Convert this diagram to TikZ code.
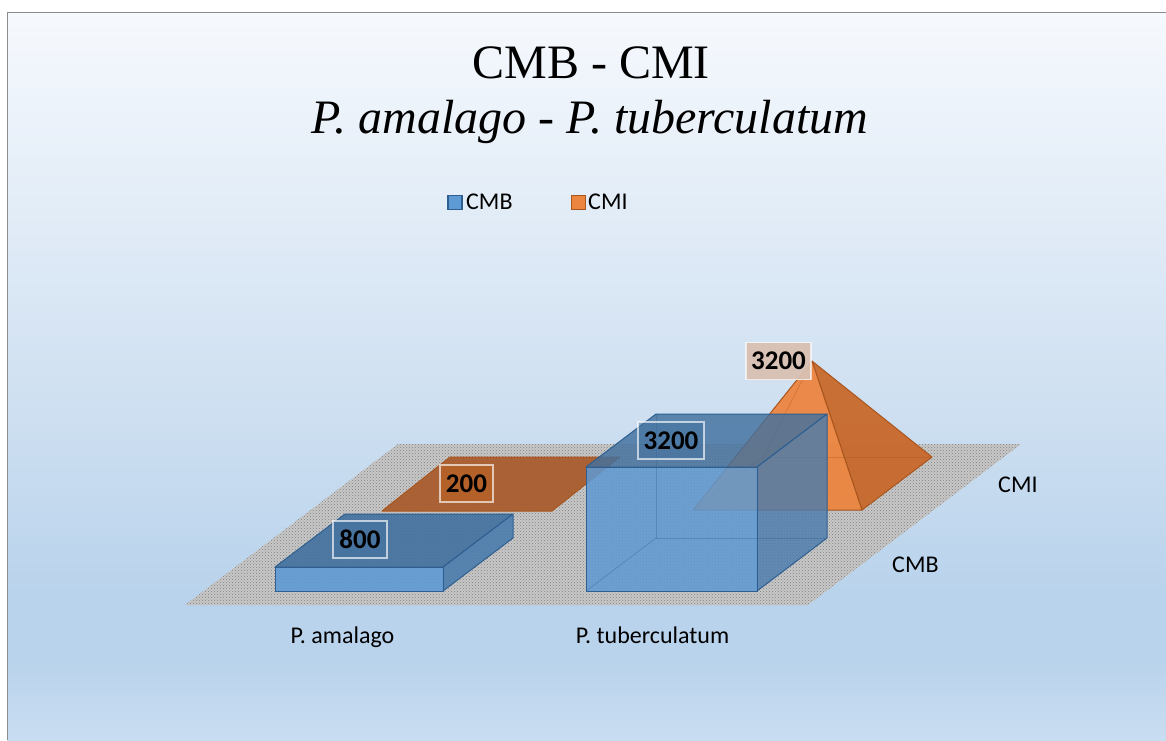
\documentclass[tikz,border=0pt]{standalone}
\usepackage{fontspec}
\setmainfont{Liberation Serif}
\newfontfamily\calfont{Carlito}
\usetikzlibrary{patterns}
\definecolor{bgA}{HTML}{F6F9FD}
\definecolor{bgB}{HTML}{E8F0F9}
\definecolor{bgC}{HTML}{CFE0F1}
\definecolor{bgD}{HTML}{B9D3EC}
\definecolor{bgE}{HTML}{C9DDF1}
\definecolor{floorgray}{HTML}{C8C8C8}
\definecolor{bfront}{HTML}{5E9AD3}
\definecolor{btop}{HTML}{42719F}
\definecolor{bright}{HTML}{4B7CAD}
\definecolor{bedge}{HTML}{2E5F90}
\definecolor{ofront}{HTML}{EC8540}
\definecolor{oright}{HTML}{C8692C}
\definecolor{oflat}{HTML}{A95A2A}
\definecolor{oedge}{HTML}{A9561E}
\definecolor{olabel}{HTML}{D9C1B3}
\definecolor{framegray}{HTML}{8C8C8C}
\pgfdeclareverticalshading{bgshade}{100bp}{color(0bp)=(bgE); color(25bp)=(bgE); color(30.5bp)=(bgD); color(35bp)=(bgD); color(48.4bp)=(bgC); color(65.5bp)=(bgB); color(75bp)=(bgA); color(100bp)=(bgA)}
\tikzset{
  bluebox/.style={draw=bedge, line width=1pt, line join=round},
  orangeshape/.style={draw=oedge, line width=1pt, line join=round},
  hidden/.style={line width=0.8pt, draw opacity=0.35},
  datalabel/.style={font=\calfont\bfseries\fontsize{27}{30}\selectfont, text=black, inner sep=0pt, minimum height=37pt, draw=white, draw opacity=0.65, line width=1.2pt},
  chartlabel/.style={font=\calfont\fontsize{24}{28}\selectfont, text=black, inner sep=0pt},
  legendbox/.style={line width=1.5pt, minimum size=14pt, inner sep=0pt}
}
\begin{document}
\begin{tikzpicture}[x=1pt, y=-1pt]
\useasboundingbox (0,0) rectangle (1166,740);
% background
\fill[white] (0,0) rectangle (1166,740);
\shade[shading=bgshade] (7,12) rectangle (1166,740);
\draw[framegray, line width=1.5pt] (7.5,740) -- (7.5,12.5) -- (1166,12.5);
% title
\node[font=\fontsize{48}{55}\selectfont, inner sep=0pt, anchor=base] (t1) at (591,78) {CMB - CMI};
\node[font=\itshape\fontsize{48}{55}\selectfont, inner sep=0pt, anchor=base] (t2) at (590,133) {P. amalago - P. tuberculatum};
% legend
\node[legendbox, draw=bedge, fill=bfront] (lb) at (455,202.5) {};
\node[chartlabel, anchor=base west] (lbt) at (466,209) {CMB};
\node[legendbox, draw=oedge, fill=ofront] (lo) at (578.5,202.5) {};
\node[chartlabel, anchor=base west] (lot) at (588,209) {CMI};
% floor
\fill[floorgray] (185,605) -- (808,605) -- (1021,444) -- (398,444) -- cycle;
\fill[pattern=crosshatch dots, pattern color=black!50] (185,605) -- (808,605) -- (1021,444) -- (398,444) -- cycle;
% orange flat (200)
\filldraw[orangeshape, fill=oflat, fill opacity=0.92] (382,511) -- (552,511) -- (620,457) -- (450,457) -- cycle;
% small blue box (800)
\filldraw[bluebox, fill=btop, fill opacity=0.9] (275,567) -- (345,514) -- (513,514) -- (443,567) -- cycle;
\filldraw[bluebox, fill=bright, fill opacity=0.9] (443,567) -- (513,514) -- (513,538) -- (443,591) -- cycle;
\filldraw[bluebox, fill=bfront, fill opacity=0.9] (275,567) rectangle (443,591);
% orange pyramid (3200)
\filldraw[orangeshape, fill=oright, fill opacity=0.95] (812,361) -- (862,510) -- (932,457) -- cycle;
\filldraw[orangeshape, fill=ofront, fill opacity=0.95] (812,361) -- (693,510) -- (862,510) -- cycle;
\draw[oedge, hidden] (763,457) -- (932,457);
\draw[oedge, hidden] (763,457) -- (693,510);
\draw[oedge, hidden] (763,457) -- (812,361);
% big blue box (3200)
\filldraw[bluebox, fill=btop, fill opacity=0.82] (586,467) -- (656,414) -- (827,414) -- (757,467) -- cycle;
\filldraw[bluebox, fill=bright, fill opacity=0.82] (757,467) -- (827,414) -- (827,538) -- (757,591) -- cycle;
\filldraw[bluebox, fill=bfront, fill opacity=0.85] (586,467) rectangle (757,591);
\draw[bedge, hidden] (656,414) -- (656,538) -- (827,538);
\draw[bedge, hidden] (656,538) -- (586,591);
% data labels
\node[datalabel, fill=btop, fill opacity=0.5, text opacity=1, minimum width=54pt] (l800) at (360,539.5) {800};
\node[datalabel, fill=oflat!80!orange, fill opacity=0.6, text opacity=1, minimum width=53pt] (l200) at (466.5,483.5) {200};
\node[datalabel, fill=btop, fill opacity=0.5, text opacity=1, minimum width=66pt] (l3200b) at (671,440.5) {3200};
\node[datalabel, fill=olabel, fill opacity=0.95, text opacity=1, minimum width=65pt] (l3200o) at (778.5,361) {3200};
% axis labels
\node[chartlabel, anchor=base] (xa) at (342.5,643) {P. amalago};
\node[chartlabel, anchor=base] (xb) at (652.5,643) {P. tuberculatum};
\node[chartlabel, anchor=base west] (za) at (892,572) {CMB};
\node[chartlabel, anchor=base west] (zb) at (998,492) {CMI};
\end{tikzpicture}
\end{document}
